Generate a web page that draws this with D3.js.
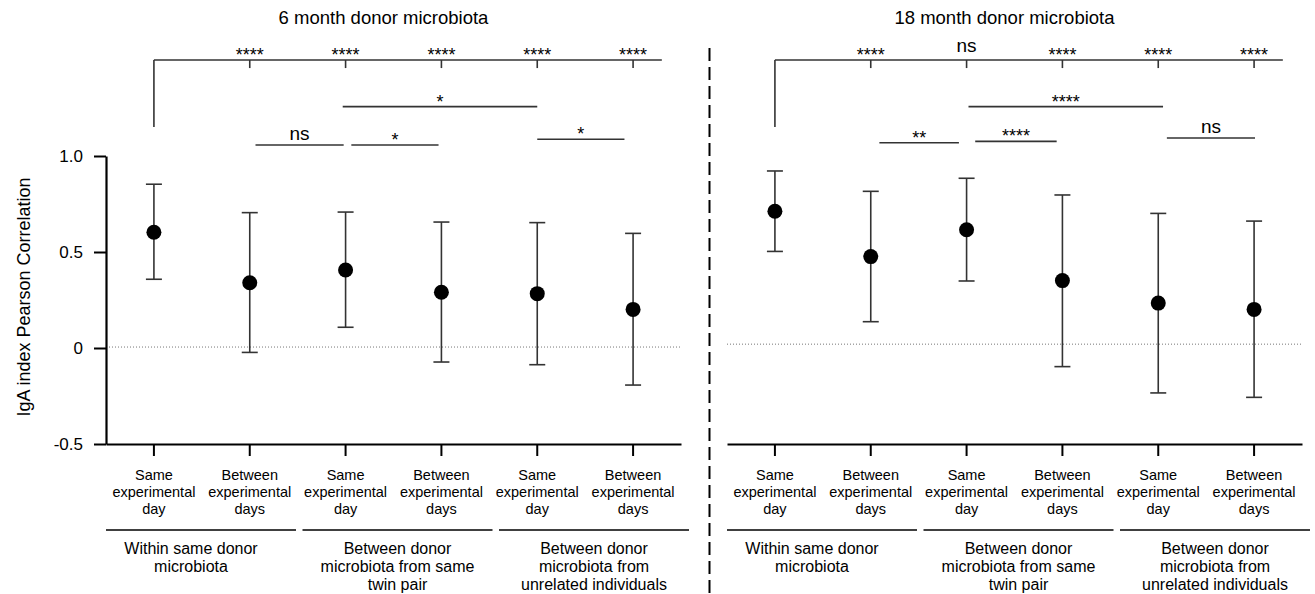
<!DOCTYPE html>
<html>
<head>
<meta charset="utf-8">
<script src="https://cdn.jsdelivr.net/npm/d3@7"></script>
<style>
  body { margin: 0; background: #fff; }
  svg { display: block; font-family: "Liberation Sans", Arial, sans-serif; }
</style>
</head>
<body>
<svg id="chart" width="1315" height="594"></svg>
<script>
// categories on the x axis (one entry per column, split into text lines)
var categories = [
  ["Same", "experimental", "day"],
  ["Between", "experimental", "days"],
  ["Same", "experimental", "day"],
  ["Between", "experimental", "days"],
  ["Same", "experimental", "day"],
  ["Between", "experimental", "days"]
];
var groups = [
  ["Within same donor", "microbiota"],
  ["Between donor", "microbiota from same", "twin pair"],
  ["Between donor", "microbiota from", "unrelated individuals"]
];
var panelTitles = ["6 month donor microbiota", "18 month donor microbiota"];

var yTicks = [1.0, 0.5, 0, -0.5];
var yTickLabels = ["1.0", "0.5", "0", "-0.5"];

// 6 month donor
var mean6 = [0.603, 0.340, 0.406, 0.290, 0.283, 0.201];
var upper6 = [0.853, 0.705, 0.708, 0.656, 0.653, 0.597];
var lower6 = [0.358, -0.023, 0.108, -0.073, -0.087, -0.193];
// 18 month donor
var mean18 = [0.712, 0.476, 0.616, 0.351, 0.234, 0.201];
var upper18 = [0.922, 0.816, 0.884, 0.797, 0.701, 0.661];
var lower18 = [0.503, 0.137, 0.349, -0.097, -0.234, -0.257];

// dotted reference line near zero
var refLine = [0.005, 0.02];

// comparisons with the first column (top bracket)
var topLabels6 = ["****", "****", "****", "****", "****"];
var topLabels18 = ["****", "ns", "****", "****", "****"];

// pairwise comparisons: from / to in column units, y in data units
var pairs6 = [
  {from: 1.06, to: 1.98, y: 1.057, label: "ns"},
  {from: 2.06, to: 2.97, y: 1.057, label: "*"},
  {from: 1.97, to: 4.00, y: 1.257, label: "*"},
  {from: 4.00, to: 4.91, y: 1.087, label: "*"}
];
var pairs18 = [
  {from: 1.09, to: 1.92, y: 1.069, label: "**"},
  {from: 2.09, to: 2.94, y: 1.076, label: "****"},
  {from: 2.02, to: 4.05, y: 1.257, label: "****"},
  {from: 4.09, to: 5.01, y: 1.094, label: "ns"}
];

var svg = d3.select("#chart");
var plotTop = 156, plotBottom = 444;
var y = d3.scaleLinear().domain([-0.5, 1.0]).range([plotBottom, plotTop]);

var panels = [
  {x0: 106, x1: 681, mean: mean6, upper: upper6, lower: lower6, topLabels: topLabels6, pairs: pairs6, ref: refLine[0], title: panelTitles[0], yaxis: true},
  {x0: 727, x1: 1302, mean: mean18, upper: upper18, lower: lower18, topLabels: topLabels18, pairs: pairs18, ref: refLine[1], title: panelTitles[1], yaxis: false}
];

var ink = "#333";

panels.forEach(function (p) {
  var idx = d3.range(categories.length);
  var xb = d3.scaleBand().domain(idx).range([p.x0, p.x1]);
  var xi = d3.scaleLinear().domain([0, 5])
      .range([xb(0) + xb.bandwidth() / 2, xb(5) + xb.bandwidth() / 2]);
  var g = svg.append("g");

  // title
  g.append("text")
    .attr("x", (p.x0 + p.x1) / 2 - 10)
    .attr("y", 24)
    .attr("text-anchor", "middle")
    .style("font-size", "18.5px")
    .text(p.title);

  // dotted zero line
  g.append("line")
    .attr("x1", p.x0).attr("x2", p.x1)
    .attr("y1", y(p.ref)).attr("y2", y(p.ref))
    .attr("stroke", "#777").attr("stroke-width", 1)
    .attr("stroke-dasharray", "1,2");

  // x axis
  var xAxis = d3.axisBottom(xb).tickSize(12).tickSizeOuter(0).tickFormat("");
  var ax = g.append("g").attr("transform", "translate(0," + plotBottom + ")").call(xAxis);
  ax.select(".domain").attr("stroke-width", 2.2);
  ax.selectAll(".tick line").attr("stroke-width", 2);

  // category labels
  idx.forEach(function (i) {
    var t = g.append("text")
      .attr("text-anchor", "middle")
      .style("font-size", "14.5px");
    categories[i].forEach(function (line, k) {
      t.append("tspan")
        .attr("x", xi(i))
        .attr("y", 479.5 + k * 17.2)
        .text(line);
    });
  });

  // group lines + labels
  groups.forEach(function (lines, gi) {
    var gx = p.x0 + gi * 196.5;
    g.append("line")
      .attr("x1", gx).attr("x2", gx + 190)
      .attr("y1", 530).attr("y2", 530)
      .attr("stroke", "#000").attr("stroke-width", 1.6);
    var t = g.append("text")
      .attr("text-anchor", "middle")
      .style("font-size", "16px");
    lines.forEach(function (line, k) {
      t.append("tspan")
        .attr("x", gx + 95 + (gi == 0 ? -10 : 0))
        .attr("y", 553.5 + k * 18)
        .text(line);
    });
  });

  // y axis (left panel only)
  if (p.yaxis) {
    var yAxis = d3.axisLeft(y).tickValues(yTicks)
      .tickFormat(function (d, i) { return yTickLabels[i]; })
      .tickSize(12).tickSizeOuter(0).tickPadding(11);
    var ay = g.append("g").attr("transform", "translate(" + p.x0 + ",0)").call(yAxis);
    ay.select(".domain").attr("stroke-width", 2.2);
    ay.selectAll(".tick line").attr("stroke-width", 2);
    ay.selectAll(".tick text")
      .style("font-size", "17px")
      .style("font-family", "'Liberation Sans', Arial, sans-serif");

    g.append("text")
      .attr("transform", "translate(30,297) rotate(-90)")
      .attr("text-anchor", "middle")
      .style("font-size", "18px")
      .text("IgA index Pearson Correlation");
  }

  // error bars
  idx.forEach(function (i) {
    var cx = xi(i);
    g.append("line")
      .attr("x1", cx).attr("x2", cx)
      .attr("y1", y(p.lower[i])).attr("y2", y(p.upper[i]))
      .attr("stroke", ink).attr("stroke-width", 1.6);
    [p.lower[i], p.upper[i]].forEach(function (v) {
      g.append("line")
        .attr("x1", cx - 8).attr("x2", cx + 8)
        .attr("y1", y(v)).attr("y2", y(v))
        .attr("stroke", ink).attr("stroke-width", 1.6);
    });
  });

  // means
  g.selectAll("circle.mean")
    .data(p.mean)
    .enter().append("circle")
    .attr("class", "mean")
    .attr("cx", function (d, i) { return xi(i); })
    .attr("cy", function (d) { return y(d); })
    .attr("r", 7.5)
    .attr("fill", "#000");

  // top bracket, comparisons against the first column
  var by = y(1.5);
  g.append("line")
    .attr("x1", xi(0)).attr("x2", xi(5.3))
    .attr("y1", by).attr("y2", by)
    .attr("stroke", ink).attr("stroke-width", 1.6);
  g.append("line")
    .attr("x1", xi(0)).attr("x2", xi(0))
    .attr("y1", by).attr("y2", y(1.151))
    .attr("stroke", ink).attr("stroke-width", 1.6);
  p.topLabels.forEach(function (lab, k) {
    var cx = xi(k + 1);
    g.append("line")
      .attr("x1", cx).attr("x2", cx)
      .attr("y1", by).attr("y2", y(1.458))
      .attr("stroke", ink).attr("stroke-width", 1.6);
    g.append("text")
      .attr("x", cx)
      .attr("y", lab == "ns" ? by - 8 : by + 1)
      .attr("text-anchor", "middle")
      .style("font-size", lab == "ns" ? "19px" : "18px")
      .text(lab);
  });

  // pairwise comparison lines
  p.pairs.forEach(function (c) {
    var ly = y(c.y);
    g.append("line")
      .attr("x1", xi(c.from)).attr("x2", xi(c.to))
      .attr("y1", ly).attr("y2", ly)
      .attr("stroke", ink).attr("stroke-width", 1.6);
    g.append("text")
      .attr("x", (xi(c.from) + xi(c.to)) / 2)
      .attr("y", c.label == "ns" ? ly - 5 : ly + 1)
      .attr("text-anchor", "middle")
      .style("font-size", c.label == "ns" ? "19px" : "18px")
      .text(c.label);
  });
});

// dashed divider between the panels
svg.append("line")
  .attr("x1", 709.5).attr("x2", 709.5)
  .attr("y1", 48).attr("y2", 594)
  .attr("stroke", "#000").attr("stroke-width", 2)
  .attr("stroke-dasharray", "13,6");
</script>
</body>
</html>
